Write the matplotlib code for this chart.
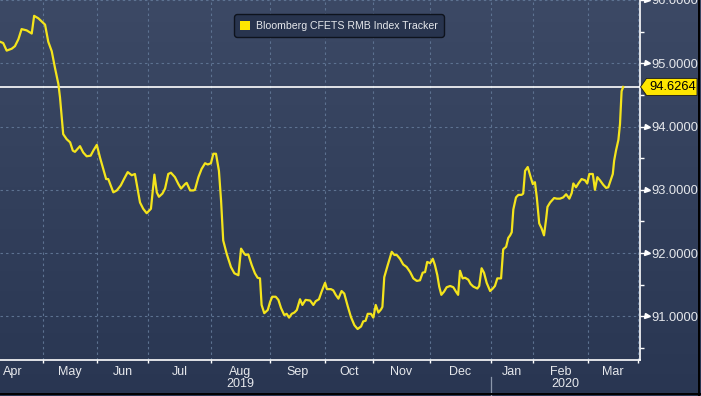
import matplotlib
matplotlib.use('Agg')
import matplotlib.pyplot as plt
import matplotlib.transforms as mtransforms
from matplotlib.patches import Polygon, Patch
from matplotlib.lines import Line2D
from matplotlib.ticker import FuncFormatter
import numpy as np

plt.rcParams['font.family'] = ['Liberation Sans', 'DejaVu Sans']

# ---- data (x = trading-session index, y = index level) ----
session = [0.0, 1.2, 2.5, 4.4, 5.6, 6.9, 8.1, 10.0, 11.9, 12.8, 14.4, 16.9, 18.1, 19.4, 20.6,
           21.9, 22.5, 23.7, 25.0, 26.3, 27.3, 28.1, 30.0, 31.2, 32.5, 34.0, 35.0, 36.3, 37.5,
           38.7, 39.8, 40.6, 42.5, 43.8, 45.3, 46.5, 47.9, 49.4, 50.6, 52.5, 53.7, 55.0, 56.6,
           57.9, 58.8, 59.6, 60.9, 61.9, 63.1, 64.1, 65.6, 66.9, 67.9, 69.4, 70.0, 71.3, 72.5,
           73.1, 74.4, 75.6, 76.9, 77.9, 79.1, 80.0, 81.0, 82.1, 82.9, 83.7, 85.0, 86.6, 87.9,
           89.4, 90.4, 91.6, 92.1, 93.1, 94.4, 95.6, 96.6, 97.5, 98.1, 99.1, 100.4, 101.3, 102.1,
           103.4, 104.4, 105.4, 106.6, 107.5, 108.4, 109.4, 110.4, 111.3, 112.5, 113.4, 114.6,
           116.3, 117.5, 118.4, 119.6, 120.6, 121.9, 122.6, 124.1, 125.0, 125.9, 126.9, 128.1,
           129.1, 130.4, 131.6, 132.9, 134.1, 135.4, 136.2, 137.1, 137.9, 139.1, 140.0, 140.9,
           141.9, 142.9, 143.4, 144.1, 145.4, 146.9, 147.9, 148.8, 150.0, 151.2, 152.5, 153.8,
           155.0, 156.3, 157.5, 158.5, 159.4, 160.2, 161.3, 162.3, 163.1, 164.0, 164.7, 165.5,
           166.5, 167.5, 168.8, 170.0, 171.0, 171.8, 172.5, 173.5, 174.4, 175.6, 176.5, 177.5,
           179.0, 179.7, 180.6, 181.5, 182.5, 183.8, 184.8, 185.6, 186.5, 187.9, 188.7, 189.8,
           190.6, 191.3, 191.9, 192.5, 193.5, 194.4, 195.6, 196.2, 196.9, 197.9, 199.0, 199.8,
           200.6, 201.3, 202.2, 203.1, 204.0, 204.8, 205.3, 206.3, 207.8, 208.8, 210.0, 211.2,
           212.3, 213.5, 214.4, 215.0, 216.0, 216.9, 218.1, 219.4, 220.2, 221.0, 222.3, 223.1,
           224.0, 225.0, 226.2, 227.3, 228.1, 229.0, 229.8, 230.3, 231.0, 231.9, 232.5, 233.1,
           233.7]
index_value = [95.34, 95.32, 95.20, 95.23, 95.27, 95.38, 95.54, 95.52, 95.47, 95.75, 95.71, 95.61,
               95.34, 95.19, 94.93, 94.67, 94.46, 93.88, 93.80, 93.75, 93.62, 93.60, 93.69, 93.59,
               93.53, 93.54, 93.62, 93.71, 93.51, 93.33, 93.17, 93.17, 92.96, 92.99, 93.07, 93.17,
               93.28, 93.23, 93.25, 92.80, 92.70, 92.63, 92.70, 93.24, 92.96, 92.89, 92.94, 93.02,
               93.25, 93.27, 93.20, 93.09, 93.02, 93.09, 93.11, 92.99, 92.99, 93.00, 93.20, 93.33,
               93.42, 93.40, 93.42, 93.57, 93.57, 93.30, 92.83, 92.20, 91.99, 91.78, 91.68, 91.65,
               92.07, 91.99, 91.97, 91.98, 91.81, 91.68, 91.61, 91.60, 91.18, 91.05, 91.10, 91.23,
               91.31, 91.31, 91.26, 91.13, 91.02, 91.04, 90.98, 91.04, 91.06, 91.10, 91.27, 91.18,
               91.26, 91.25, 91.18, 91.24, 91.27, 91.39, 91.53, 91.43, 91.43, 91.41, 91.34, 91.28,
               91.40, 91.36, 91.16, 90.99, 90.86, 90.80, 90.84, 90.92, 90.93, 91.04, 91.04, 90.98,
               91.18, 91.06, 91.11, 91.15, 91.62, 91.81, 92.02, 91.97, 91.97, 91.91, 91.82, 91.78,
               91.70, 91.60, 91.56, 91.57, 91.69, 91.70, 91.86, 91.84, 91.91, 91.81, 91.65, 91.47,
               91.34, 91.39, 91.46, 91.48, 91.46, 91.39, 91.34, 91.72, 91.60, 91.61, 91.58, 91.51,
               91.47, 91.44, 91.48, 91.76, 91.69, 91.53, 91.40, 91.44, 91.48, 91.60, 91.60, 92.06,
               92.10, 92.24, 92.28, 92.33, 92.69, 92.88, 92.92, 92.92, 92.94, 93.30, 93.36, 93.20,
               93.09, 93.12, 92.88, 92.47, 92.39, 92.28, 92.54, 92.73, 92.80, 92.87, 92.86, 92.86,
               92.88, 92.93, 92.86, 92.95, 93.10, 93.04, 93.10, 93.17, 93.15, 93.10, 93.25, 93.25,
               93.00, 93.20, 93.15, 93.08, 93.03, 93.04, 93.15, 93.25, 93.46, 93.62, 93.79, 94.04,
               94.56, 94.6264]
last_value = 94.6264
series_label = 'Bloomberg CFETS RMB Index Tracker'

month_start = [-6.4, 16.1, 36.4, 55.5, 79.1, 101.2, 121.9, 139.9, 161.2, 184.1, 199.9, 220.5, 239.3]
month_labels = ['Apr', 'May', 'Jun', 'Jul', 'Aug', 'Sep', 'Oct', 'Nov', 'Dec', 'Jan', 'Feb', 'Mar']
year_labels = ['2019', '2020']
year_label_pos = [90.2, 212.0]
year_break = 184.1
y_major = [91, 92, 93, 94, 95, 96]
y_minor = [90.5, 91.5, 92.5, 93.5, 94.5, 95.5]

# ---- style ----
LINE = '#f4e41c'
TXT = '#e6e8ec'
GRID = '#5d7291'

W, H, DPI = 701, 396, 100
fig = plt.figure(figsize=(W / DPI, H / DPI), dpi=DPI)
fig.patch.set_facecolor('#2c3955')

# gradient background
bg = fig.add_axes([0, 0, 1, 1], zorder=-10)
top = np.array([60, 73, 101]) / 255.0
bot = np.array([41, 54, 82]) / 255.0
t = np.linspace(0, 1, 256)[:, None]
grad = top[None, :] * (1 - t) + bot[None, :] * t
bg.imshow(grad[:, None, :], aspect='auto', extent=[0, 1, 0, 1])
bg.axis('off')

ax = fig.add_axes([0, 36 / H, 640 / W, 360 / H])
ax.set_facecolor('none')

ax.plot(session, index_value, color=LINE, lw=1.6, zorder=3)
ax.axhline(last_value, color='white', lw=1.2, zorder=2)

ax.set_xlim(0, 240)
ax.set_ylim(90.31, 96.0)

# y axis on right
ax.yaxis.tick_right()
ax.set_yticks(y_major)
ax.set_yticks(y_minor, minor=True)
ax.yaxis.set_major_formatter(FuncFormatter(lambda v, p: f'{v:.4f}'))
ax.tick_params(axis='y', which='major', direction='out', length=4, width=1, color='white',
               pad=4.5, labelsize=9.3, labelcolor=TXT, right=True, left=False,
               labelright=True, labelleft=False)
ax.tick_params(axis='y', which='minor', direction='out', length=3, width=1, color='white',
               right=True, left=False)
offs = mtransforms.ScaledTranslation(0.065, 0, fig.dpi_scale_trans)
ax.plot([1] * len(y_major), y_major, linestyle='none', marker='>', ms=3.6, color='white',
        transform=ax.get_yaxis_transform() + offs, clip_on=False, zorder=5)

# x axis: month boundaries + centred month labels
major_x = [m for m in month_start if 0 < m < 240]
mid_x = [(a + b) / 2 for a, b in zip(month_start[:-1], month_start[1:])]
ax.set_xticks(major_x)
ax.set_xticks(mid_x, minor=True)
ax.set_xticklabels(month_labels, minor=True)
ax.tick_params(axis='x', which='major', direction='out', length=2.5, width=1, color='white',
               labelbottom=False)
ax.tick_params(axis='x', which='minor', length=0, pad=4, labelsize=9, labelcolor=TXT)

for i, (lab, pos) in enumerate(zip(year_labels, year_label_pos)):
    ax.text(pos, -0.068, lab, transform=ax.get_xaxis_transform(), ha='center', va='center',
            fontsize=9, color=TXT)
ax.plot([year_break, year_break], [-0.047, -0.1], transform=ax.get_xaxis_transform(),
        color='#8b97ab', lw=0.9, clip_on=False)

ax.grid(True, which='major', color=GRID, linestyle=(0, (2.2, 2.8)), linewidth=0.8)
ax.set_axisbelow(True)

for s in ['left', 'top']:
    ax.spines[s].set_visible(False)
for s in ['right', 'bottom']:
    ax.spines[s].set_color('white')
    ax.spines[s].set_linewidth(1.2)

# legend
handle = Patch(facecolor='#ffe600', edgecolor='none')
leg = ax.legend([handle], [series_label], loc='upper center',
                bbox_to_anchor=(339 / 640, 1 - 14 / 360), borderaxespad=0,
                fontsize=7.6, handlelength=0.95, handleheight=0.95, handletextpad=0.5,
                borderpad=0.62, fancybox=True, framealpha=1)
fr = leg.get_frame()
fr.set_facecolor('#28344e')
fr.set_edgecolor('#0e131d')
fr.set_linewidth(1.0)
fr.set_boxstyle('round,pad=0,rounding_size=0.3')
for txt in leg.get_texts():
    txt.set_color(TXT)

# last value tag
tag_trans = mtransforms.Affine2D() + mtransforms.ScaledTranslation(1.0, last_value,
                                                                    ax.get_yaxis_transform())
tag = Polygon([(0.5, 0), (6.5, 8.5), (57, 8.5), (57, -8.5), (6.5, -8.5)], closed=True,
              facecolor='#ffe600', edgecolor='#1a1a1a', lw=0.6, transform=tag_trans,
              clip_on=False, zorder=9)
ax.add_artist(tag)
ax.text(1, last_value, f'{last_value:.4f}',
        transform=ax.get_yaxis_transform() + mtransforms.ScaledTranslation(0.325, 0, fig.dpi_scale_trans),
        ha='center', va='center', fontsize=9.3, color='black', clip_on=False, zorder=10)

# outer border lines
fig.add_artist(Line2D([698.5 / W, 698.5 / W], [0, 1], color='black', lw=1.4,
                      transform=fig.transFigure))
fig.add_artist(Line2D([0, 1], [2.5 / H, 2.5 / H], color='black', lw=1.4,
                      transform=fig.transFigure))

fig.savefig('out.png', dpi=DPI, facecolor=fig.get_facecolor())
